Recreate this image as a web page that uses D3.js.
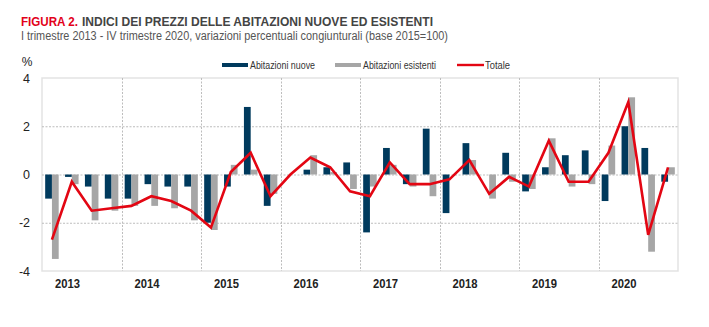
<!DOCTYPE html>
<html>
<head>
<meta charset="utf-8">
<script src="https://cdn.jsdelivr.net/npm/d3@7"></script>
<style>
  body { margin: 0; background: #fff; }
  svg { display: block; font-family: "Liberation Sans", Arial, sans-serif; }
</style>
</head>
<body>
<div id="chart"></div>
<script>
// quarters 2013 Q1 .. 2020 Q4
const years = ["2013", "2014", "2015", "2016", "2017", "2018", "2019", "2020"];
const quarters = years.flatMap(y => ["I", "II", "III", "IV"].map(q => q + " " + y));

const nuove = [-1.0, -0.1, -0.5, -1.0, -1.0, -0.4, -0.5, -0.5,
               -2.0, -0.5, 2.8, -1.3, 0.0, 0.2, 0.3, 0.5,
               -2.4, 1.1, -0.4, 1.9, -1.6, 1.3, 0.0, 0.9,
               -0.7, 0.3, 0.8, 1.0, -1.1, 2.0, 1.1, -0.3];
const esistenti = [-3.5, -0.4, -1.9, -1.5, -1.3, -1.3, -1.4, -1.9,
                   -2.3, 0.4, 0.2, -0.8, 0.0, 0.8, 0.1, -0.6,
                   -0.5, 0.4, -0.5, -0.9, 0.0, 0.6, -1.0, -0.3,
                   -0.6, 1.5, -0.5, -0.4, 1.2, 3.2, -3.2, 0.3];
const totale = [-2.7, -0.3, -1.5, -1.4, -1.3, -0.9, -1.1, -1.5,
                -2.2, 0.1, 0.9, -0.9, 0.0, 0.7, 0.3, -0.7,
                -0.9, 0.5, -0.4, -0.4, -0.2, 0.6, -0.8, -0.1,
                -0.5, 1.4, -0.3, -0.3, 0.9, 3.0, -2.5, 0.3];
const yTicks = [-4, -2, 0, 2, 4];
const seriesNames = ["Abitazioni nuove", "Abitazioni esistenti", "Totale"];

const navy = "#003a5d";
const grey = "#a6a6a6";
const red = "#e30613";

const width = 709, height = 327;
const margin = {top: 78, right: 31, bottom: 56, left: 42};

const svg = d3.select("#chart")
    .append("svg")
    .attr("width", width)
    .attr("height", height);

// titles (narrow font look: larger size squeezed to the measured width)
svg.append("text")
    .attr("x", 21)
    .attr("y", 26)
    .attr("font-size", 13.5)
    .attr("font-weight", "bold")
    .attr("fill", "#e2001a")
    .attr("textLength", 57)
    .attr("lengthAdjust", "spacingAndGlyphs")
    .text("FIGURA 2.");

svg.append("text")
    .attr("x", 82)
    .attr("y", 26)
    .attr("font-size", 13.5)
    .attr("font-weight", "bold")
    .attr("fill", "#444")
    .attr("textLength", 351)
    .attr("lengthAdjust", "spacingAndGlyphs")
    .text("INDICI DEI PREZZI DELLE ABITAZIONI NUOVE ED ESISTENTI");

svg.append("text")
    .attr("x", 21)
    .attr("y", 40)
    .attr("font-size", 12)
    .attr("fill", "#555")
    .attr("textLength", 427)
    .attr("lengthAdjust", "spacingAndGlyphs")
    .text("I trimestre 2013 - IV trimestre 2020, variazioni percentuali congiunturali (base 2015=100)");

const x0 = d3.scaleBand()
    .domain(quarters)
    .range([margin.left, width - margin.right])
    .paddingInner(0.32)
    .paddingOuter(0.16);

const x1 = d3.scaleBand()
    .domain(["nuove", "esistenti"])
    .range([0, x0.bandwidth()]);

const xYear = d3.scaleBand()
    .domain(years)
    .range([margin.left, width - margin.right]);

const y = d3.scaleLinear()
    .domain([-4, 4])
    .range([height - margin.bottom, margin.top]);

const plot = svg.append("g");

// frame
plot.append("rect")
    .attr("x", margin.left)
    .attr("y", y(4))
    .attr("width", width - margin.right - margin.left)
    .attr("height", y(-4) - y(4))
    .attr("fill", "none")
    .attr("stroke", "#e3e3e3")
    .attr("stroke-width", 1.5);

// grid
plot.selectAll(".hgrid")
    .data(yTicks.filter(d => d > -4 && d < 4))
    .enter()
    .append("line")
    .attr("x1", margin.left)
    .attr("x2", width - margin.right)
    .attr("y1", d => y(d) + 0.5)
    .attr("y2", d => y(d) + 0.5)
    .attr("stroke", "#bdbdbd")
    .attr("stroke-dasharray", "2,1.5");

plot.selectAll(".vgrid")
    .data(years.slice(1))
    .enter()
    .append("line")
    .attr("x1", d => Math.round(xYear(d)) + 0.5)
    .attr("x2", d => Math.round(xYear(d)) + 0.5)
    .attr("y1", y(4))
    .attr("y2", y(-4))
    .attr("stroke", "#bdbdbd")
    .attr("stroke-dasharray", "2,1.5");

// bars
const groups = plot.selectAll(".q")
    .data(quarters)
    .enter()
    .append("g")
    .attr("transform", d => "translate(" + x0(d) + ",0)");

groups.append("rect")
    .attr("x", x1("nuove"))
    .attr("width", x1.bandwidth())
    .attr("y", (d, i) => y(Math.max(0, nuove[i])))
    .attr("height", (d, i) => Math.abs(y(nuove[i]) - y(0)))
    .attr("fill", navy);

groups.append("rect")
    .attr("x", x1("esistenti"))
    .attr("width", x1.bandwidth())
    .attr("y", (d, i) => y(Math.max(0, esistenti[i])))
    .attr("height", (d, i) => Math.abs(y(esistenti[i]) - y(0)))
    .attr("fill", grey);

// line
const line = d3.line()
    .x((d, i) => x0(quarters[i]) + x0.bandwidth() / 2)
    .y(d => y(d));

plot.append("path")
    .datum(totale)
    .attr("d", line)
    .attr("fill", "none")
    .attr("stroke", red)
    .attr("stroke-width", 2.6)
    .attr("stroke-linejoin", "miter");

// y axis labels
svg.selectAll(".ytick")
    .data(yTicks)
    .enter()
    .append("text")
    .attr("x", 30)
    .attr("y", d => y(d))
    .attr("dy", "0.36em")
    .attr("text-anchor", "end")
    .attr("font-size", 12.5)
    .attr("fill", "#222")
    .text(d => d);

svg.append("text")
    .attr("x", 27)
    .attr("y", 66)
    .attr("text-anchor", "middle")
    .attr("font-size", 12)
    .attr("fill", "#222")
    .text("%");

// x axis labels
svg.selectAll(".xtick")
    .data(years)
    .enter()
    .append("text")
    .attr("x", d => xYear(d) + xYear.bandwidth() * 0.2 - 3)
    .attr("y", 288)
    .attr("font-size", 13.5)
    .attr("font-weight", "bold")
    .attr("fill", "#222")
    .attr("textLength", 25)
    .attr("lengthAdjust", "spacingAndGlyphs")
    .text(d => d);

// legend
const legend = svg.append("g");
const legendX = [222, 335, 457];
const legendLen = [65, 73, 25];
seriesNames.forEach((name, i) => {
    const g = legend.append("g").attr("transform", "translate(" + legendX[i] + ",65)");
    if (i < 2) {
        g.append("rect")
            .attr("x", 0).attr("y", -2)
            .attr("width", 26).attr("height", 4)
            .attr("fill", i === 0 ? navy : grey);
    } else {
        g.append("line")
            .attr("x1", 0).attr("x2", 27)
            .attr("stroke", red).attr("stroke-width", 2.4);
    }
    g.append("text")
        .attr("x", 28)
        .attr("dy", "0.35em")
        .attr("font-size", 10.5)
        .attr("fill", "#333")
        .attr("textLength", legendLen[i])
        .attr("lengthAdjust", "spacingAndGlyphs")
        .text(name);
});
</script>
</body>
</html>
